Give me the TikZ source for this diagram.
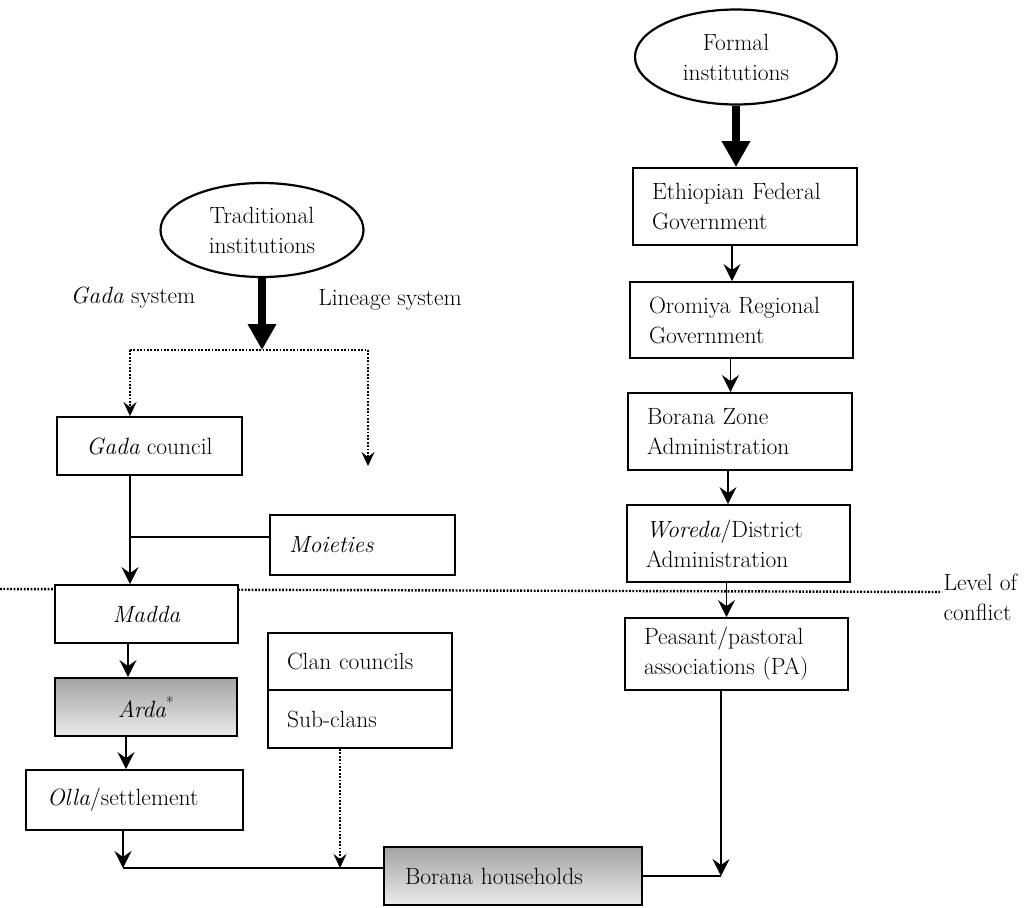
\documentclass[tikz,border=0pt]{standalone}
\usepackage{fontspec}
\setmainfont{Latin Modern Roman}
\usetikzlibrary{shapes.geometric,arrows.meta,calc}
\begin{document}
\begin{tikzpicture}[x=1pt,y=-1pt,
  every node/.style={font=\fontsize{23.5}{30}\selectfont},
  box/.style={draw, line width=1.8pt, fill=white, inner xsep=19pt, inner ysep=0pt, align=left},
  cbox/.style={draw, line width=1.8pt, fill=white, inner sep=0pt, align=center},
  oval/.style={draw, ellipse, line width=2.2pt, fill=white, inner sep=0pt, align=center},
  conn/.style={line width=1.6pt},
  arr/.style={line width=1.6pt, -{Stealth[length=17pt, width=17pt, inset=6pt]}},
  thick arr/.style={line width=8pt, -{Triangle[length=26pt, width=27pt]}},
  dots/.style={line width=2.4pt, dash pattern=on 1.8pt off 1.6pt},
  dotarr/.style={dots, -{Stealth[length=14pt, width=13pt, inset=5pt]}},
  shaded/.style={top color=black!36, bottom color=black!8}
]
\useasboundingbox[fill=white] (0,0) rectangle (1029,908);

% level of conflict line
\coordinate (lcL) at (0,589);
\coordinate (lcR) at (942,592);
\draw[dots] (lcL) -- (lcR);
\node[anchor=west, align=left] (lc) at (940,597) {Level of\\conflict};

% ---------- formal institutions ----------
\node[oval, minimum width=202pt, minimum height=95pt] (formal) at (736,57) {Formal\\institutions};
\node[box, minimum width=224pt, minimum height=77pt, text width=186pt] (efg) at (745,206.5) {Ethiopian Federal\\Government};
\node[box, minimum width=223pt, minimum height=76pt, text width=185pt] (org) at (741.5,320) {Oromiya Regional\\Government};
\node[box, minimum width=224pt, minimum height=77pt, text width=186pt] (bza) at (740,431.5) {Borana Zone\\Administration};
\node[box, minimum width=223pt, minimum height=77pt, text width=185pt] (wda) at (738.5,543.5) {\textit{Woreda}/District\\Administration};
\node[box, minimum width=223pt, minimum height=72pt, text width=185pt] (pa) at (736.5,654) {Peasant/pastoral\\associations (PA)};

\draw[thick arr] (formal.south) -- (formal.south |- efg.north);
\draw[arr] ([xshift=-13pt]efg.south) -- ([xshift=-13pt]efg.south |- org.north);
\draw[arr] ([xshift=-11pt]org.south) -- ([xshift=-11pt]org.south |- bza.north);
\draw[arr] ([xshift=-12pt]bza.south) -- ([xshift=-12pt]bza.south |- wda.north);
\draw[arr] ([xshift=-12pt]wda.south) -- ([xshift=-12pt]wda.south |- pa.north);

% ---------- traditional institutions ----------
\node[oval, minimum width=203pt, minimum height=94pt] (trad) at (262,230) {Traditional\\institutions};
\node (gadasys) at (133,298) {\textit{Gada} system};
\node (linsys) at (390,300) {Lineage system};

\coordinate (split) at (262,350);
\coordinate (spL) at (130,350);
\coordinate (spR) at (368,350);
\coordinate (linEnd) at (368,466);
\draw[thick arr] (trad.south) -- (split);

\node[cbox, minimum width=185pt, minimum height=58pt] (gc) at (149.5,446) {\textit{Gada} council};
\node[box, minimum width=185pt, minimum height=60pt, text width=147pt] (moi) at (362.5,545) {\textit{Moieties}};
\node[cbox, minimum width=183pt, minimum height=58pt] (madda) at (146.5,614) {\textit{Madda}};
\node[cbox, shaded, minimum width=182pt, minimum height=58pt] (arda) at (146,707) {\textit{Arda}\textsuperscript{*}};
\node[box, inner xsep=21pt, minimum width=217pt, minimum height=60pt, text width=175pt] (olla) at (134.5,800) {\textit{Olla}/settlement};
\node[box, minimum width=184pt, minimum height=57pt, text width=146pt] (clan) at (360,661.5) {Clan councils};
\node[box, minimum width=184pt, minimum height=58pt, text width=146pt] (sub) at (360,719) {Sub-clans};
\node[box, shaded, inner xsep=21pt, minimum width=258pt, minimum height=58pt, text width=216pt] (hh) at (513,876) {Borana households};

\draw[dots] (spL) -- (spR);
\draw[dotarr] (spL) -- (spL |- gc.north);
\draw[dotarr] (spR) -- (linEnd);

\coordinate (gcx) at (130,537);
\draw[arr] (gc.south -| gcx) -- (gcx |- madda.north);
\draw[conn] (gcx) -- (gcx -| moi.west);
\draw[arr] (madda.south -| 128,0) -- (128,0 |- arda.north);
\draw[arr] (arda.south -| 126,0) -- (126,0 |- olla.north);

\coordinate (ob) at (123,868);
\coordinate (sb) at (340,868);
\coordinate (pb) at (721,876);
\draw[arr] (olla.south -| ob) -- (ob);
\draw[conn] (ob) -- (ob -| hh.west);
\draw[dotarr] (sub.south -| sb) -- (sb);
\draw[arr] (pa.south -| pb) -- (pb);
\draw[conn] (hh.east) -- (pb);
\end{tikzpicture}
\end{document}
